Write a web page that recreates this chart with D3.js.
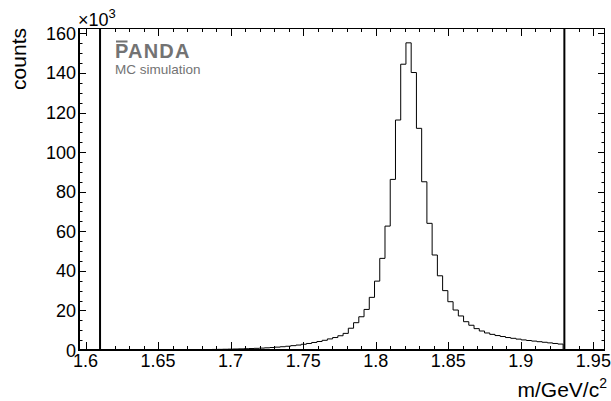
<!DOCTYPE html>
<html>
<head>
<meta charset="utf-8">
<script src="https://cdn.jsdelivr.net/npm/d3@7"></script>
<style>
  html, body { margin: 0; padding: 0; background: #fff; }
  svg { display: block; font-family: "Liberation Sans", Arial, Helvetica, sans-serif; }
</style>
</head>
<body>
<svg id="chart" width="611" height="401"></svg>
<script>
// ---- data (counts in units of 10^3) ----
const binStart = 1.597;
const binWidth = 0.00361;
const counts = [
  0, 0, 0, 0, 0.01, 0.01, 0.01, 0.02, 0.02, 0.02,
  0.03, 0.03, 0.04, 0.05, 0.06, 0.07, 0.08, 0.09, 0.10, 0.12,
  0.14, 0.16, 0.19, 0.22, 0.25, 0.29, 0.33, 0.38, 0.44, 0.50,
  0.57, 0.65, 0.74, 0.84, 0.96, 1.10, 1.25, 1.45, 1.65, 1.90,
  2.2, 2.5, 2.9, 3.3, 3.8, 4.3, 4.9, 5.6, 6.3, 7.2,
  8.4, 11.0, 13.8, 16.8, 20.5, 26.6, 34.8, 46.3, 62.6, 86.2,
  116.2, 144.4, 155.2, 140.2, 112.0, 85.0, 64.0, 48.0, 37.5, 30.0,
  24.4, 20.2, 17.2, 14.3, 12.5, 10.8, 9.6, 8.6, 7.9, 7.3,
  6.8, 6.3, 5.9, 5.5, 5.1, 4.8, 4.5, 4.2, 3.9, 3.6,
  3.3, 3.0, 0, 0, 0, 0, 0, 0, 0, 0
];
const cutLines = [1.61, 1.93];
const xDomain = [1.5955, 1.958];
const yDomain = [0, 162.7];
const xMajorTicks = [1.6, 1.65, 1.7, 1.75, 1.8, 1.85, 1.9, 1.95];
const xTickLabels = ["1.6", "1.65", "1.7", "1.75", "1.8", "1.85", "1.9", "1.95"];
const yMajorTicks = [0, 20, 40, 60, 80, 100, 120, 140, 160];
const yTickLabels = ["0", "20", "40", "60", "80", "100", "120", "140", "160"];
const xMinorStep = 0.01;
const yMinorStep = 5;

// ---- layout ----
const L = 79, R = 605, T = 28, B = 350;
const svg = d3.select("#chart");
const x = d3.scaleLinear().domain(xDomain).range([L, R]);
const y = d3.scaleLinear().domain(yDomain).range([B, T]);

const xMinor = d3.range(Math.ceil(xDomain[0] / xMinorStep), Math.floor(xDomain[1] / xMinorStep) + 1)
  .map(k => +(k * xMinorStep).toFixed(4))
  .filter(v => !xMajorTicks.some(m => Math.abs(m - v) < 1e-6));
const yMinor = d3.range(0, yDomain[1], yMinorStep).filter(v => !yMajorTicks.includes(v));

// ticks
const tickG = svg.append("g").attr("stroke", "#000").attr("stroke-width", 1);
function xt(vals, len) {
  vals.forEach(v => {
    const px = Math.round(x(v)) + 0.5;
    tickG.append("line").attr("x1", px).attr("x2", px).attr("y1", B).attr("y2", B - len);
    tickG.append("line").attr("x1", px).attr("x2", px).attr("y1", T).attr("y2", T + len);
  });
}
function yt(vals, len) {
  vals.forEach(v => {
    const py = Math.round(y(v)) + 0.5;
    tickG.append("line").attr("y1", py).attr("y2", py).attr("x1", L).attr("x2", L + len);
    tickG.append("line").attr("y1", py).attr("y2", py).attr("x1", R).attr("x2", R - len);
  });
}
xt(xMajorTicks, 8); xt(xMinor, 4);
yt(yMajorTicks, 7); yt(yMinor, 3.5);

// histogram
const pts = [];
counts.forEach((c, i) => {
  const lo = binStart + i * binWidth, hi = lo + binWidth;
  pts.push([lo, c], [hi, c]);
});
const line = d3.line().x(d => x(d[0])).y(d => y(d[1]));
svg.append("path").attr("d", line(pts))
  .attr("fill", "none").attr("stroke", "#000").attr("stroke-width", 1);

// cut lines
cutLines.forEach(v => {
  svg.append("line").attr("x1", x(v)).attr("x2", x(v)).attr("y1", T).attr("y2", B)
    .attr("stroke", "#000").attr("stroke-width", 2);
});

// frame
svg.append("line").attr("x1", L).attr("x2", R).attr("y1", T + 0.5).attr("y2", T + 0.5).attr("stroke", "#000").attr("stroke-width", 1);
svg.append("line").attr("x1", R - 0.5).attr("x2", R - 0.5).attr("y1", T).attr("y2", B).attr("stroke", "#000").attr("stroke-width", 1);
svg.append("line").attr("x1", L - 1).attr("x2", R).attr("y1", B).attr("y2", B).attr("stroke", "#000").attr("stroke-width", 2);
svg.append("line").attr("x1", L).attr("x2", L).attr("y1", T).attr("y2", B + 1).attr("stroke", "#000").attr("stroke-width", 2);

// tick labels
xMajorTicks.forEach((v, i) => {
  svg.append("text").attr("x", x(v)).attr("y", 367).attr("text-anchor", "middle")
    .attr("font-size", 18).attr("fill", "#000").text(xTickLabels[i]);
});
yMajorTicks.forEach((v, i) => {
  svg.append("text").attr("x", 76).attr("y", y(v) + 6.5).attr("text-anchor", "end")
    .attr("font-size", 18).attr("fill", "#000").text(yTickLabels[i]);
});

// exponent label
const ex = svg.append("text").attr("x", 78).attr("y", 25.5).attr("font-size", 18).attr("fill", "#000");
ex.append("tspan").text("\u00d710");
ex.append("tspan").attr("font-size", 13).attr("dy", -7.5).text("3");

// axis titles
const xt2 = svg.append("text").attr("x", 607).attr("y", 397).attr("text-anchor", "end")
  .attr("font-size", 21).attr("fill", "#000");
xt2.append("tspan").text("m/GeV/c");
xt2.append("tspan").attr("font-size", 14).attr("dy", -9).text("2");

svg.append("text").attr("transform", "translate(25.5,28) rotate(-90)")
  .attr("text-anchor", "end").attr("font-size", 21).attr("fill", "#000").text("counts");

// PANDA logo
svg.append("text").attr("x", 115).attr("y", 57.5).attr("font-size", 20).attr("font-weight", "bold")
  .attr("letter-spacing", 1.2).attr("fill", "#737373").text("PANDA");
svg.append("rect").attr("x", 116).attr("y", 40.5).attr("width", 11.5).attr("height", 2).attr("fill", "#737373");
svg.append("text").attr("x", 115).attr("y", 73.5).attr("font-size", 13.5)
  .attr("fill", "#737373").text("MC simulation");
</script>
</body>
</html>
